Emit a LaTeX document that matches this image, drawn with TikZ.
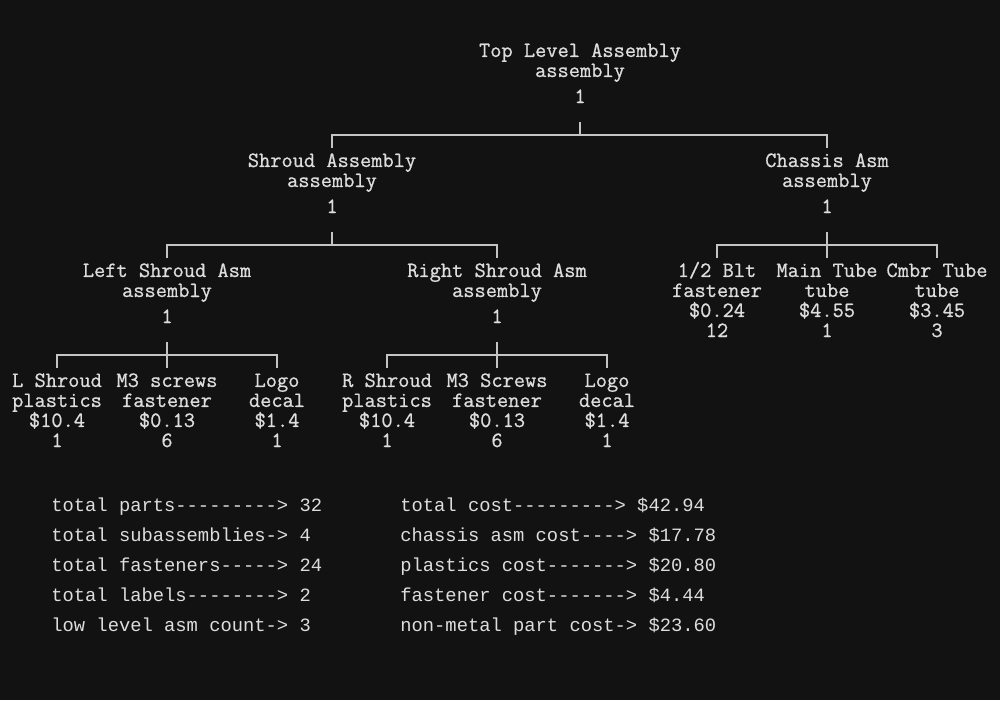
\documentclass[tikz,border=0pt]{standalone}
\usepackage{fontspec}
\newfontfamily\treefont[FakeBold=0.8]{Latin Modern Mono}
\newfontfamily\sumfont{Liberation Mono}
\usetikzlibrary{positioning}

\definecolor{bg}{HTML}{121212}
\definecolor{fg}{HTML}{DDDDDD}
\definecolor{ln}{HTML}{C4C4C4}

\tikzset{
  part/.style={anchor=base, inner sep=0pt, align=center, text=fg,
    font=\treefont\fontsize{12.4}{11.4}\selectfont},
  total/.style={anchor=base west, inner sep=0pt, text=fg,
    font=\sumfont\fontsize{10.7}{11.4}\selectfont},
  conn/.style={draw=ln, line width=0.9pt}
}

\begin{document}
\begin{tikzpicture}[x=0.02cm, y=-0.02cm]
    \fill[bg] (0,0) rectangle (1000,700);
    \useasboundingbox (0,0) rectangle (1000,700);

    % top level
    \node[part] (top) at (580,103) {Top Level Assembly\\assembly\\[3.4pt]1};

    % second level
    \node[part] (shroud) at (332,213) {Shroud Assembly\\assembly\\[3.4pt]1};
    \node[part] (chassis) at (827,213) {Chassis Asm\\assembly\\[3.4pt]1};

    % shroud halves
    \node[part] (lshroud) at (167,323) {Left Shroud Asm\\assembly\\[3.4pt]1};
    \node[part] (rshroud) at (497,323) {Right Shroud Asm\\assembly\\[3.4pt]1};

    % chassis parts
    \node[part] (blt) at (717,337) {1/2 Blt\\fastener\\\$0.24\\12};
    \node[part] (mtube) at (827,337) {Main Tube\\tube\\\$4.55\\1};
    \node[part] (ctube) at (937,337) {Cmbr Tube\\tube\\\$3.45\\3};

    % left shroud parts
    \node[part] (lpl) at (57,447) {L Shroud\\plastics\\\$10.4\\1};
    \node[part] (lscr) at (167,447) {M3 screws\\fastener\\\$0.13\\6};
    \node[part] (llogo) at (277,447) {Logo\\decal\\\$1.4\\1};

    % right shroud parts
    \node[part] (rpl) at (387,447) {R Shroud\\plastics\\\$10.4\\1};
    \node[part] (rscr) at (497,447) {M3 Screws\\fastener\\\$0.13\\6};
    \node[part] (rlogo) at (607,447) {Logo\\decal\\\$1.4\\1};

    % connectors
    \coordinate (j0) at (580,135);
    \coordinate (j1) at (332,245);
    \coordinate (j2) at (827,245);
    \coordinate (j3) at (167,355);
    \coordinate (j4) at (497,355);
    \draw[conn] (top.south |- 0,122) -- (j0);
    \draw[conn] (shroud.north |- 0,148) |- (j0) -| (chassis.north |- 0,148);
    \draw[conn] (shroud.south |- 0,232) -- (j1);
    \draw[conn] (lshroud.north |- 0,258) |- (j1) -| (rshroud.north |- 0,258);
    \draw[conn] (chassis.south |- 0,232) -- (mtube.north |- 0,258);
    \draw[conn] (blt.north |- 0,258) |- (j2) -| (ctube.north |- 0,258);
    \draw[conn] (lshroud.south |- 0,342) -- (lscr.north |- 0,368);
    \draw[conn] (lpl.north |- 0,368) |- (j3) -| (llogo.north |- 0,368);
    \draw[conn] (rshroud.south |- 0,342) -- (rscr.north |- 0,368);
    \draw[conn] (rpl.north |- 0,368) |- (j4) -| (rlogo.north |- 0,368);

    % totals
    \node[total] (s1) at (51,511) {total parts---------> 32};
    \node[total] (s2) at (51,541) {total subassemblies-> 4};
    \node[total] (s3) at (51,571) {total fasteners-----> 24};
    \node[total] (s4) at (51,601) {total labels--------> 2};
    \node[total] (s5) at (51,631) {low level asm count-> 3};
    \node[total] (c1) at (400,511) {total cost---------> \$42.94};
    \node[total] (c2) at (400,541) {chassis asm cost----> \$17.78};
    \node[total] (c3) at (400,571) {plastics cost-------> \$20.80};
    \node[total] (c4) at (400,601) {fastener cost-------> \$4.44};
    \node[total] (c5) at (400,631) {non-metal part cost-> \$23.60};
\end{tikzpicture}
\end{document}
